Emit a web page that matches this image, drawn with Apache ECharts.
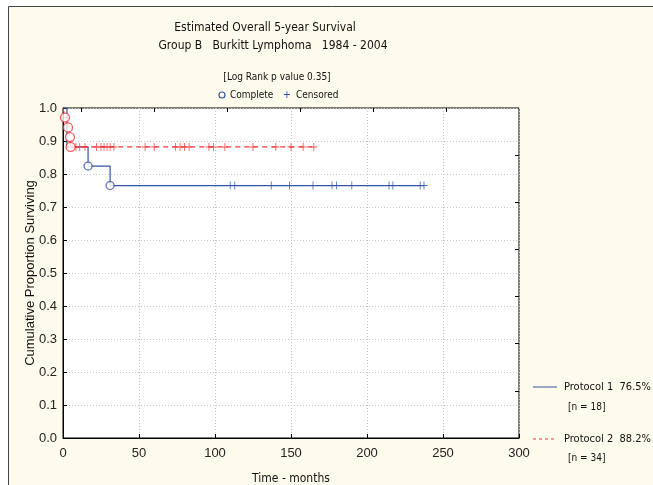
<!DOCTYPE html>
<html>
<head>
<meta charset="utf-8">
<script src="https://cdn.jsdelivr.net/npm/echarts@6/dist/echarts.min.js"></script>
<style>
html,body{margin:0;padding:0;background:#fff;}
#c{width:653px;height:485px;}
</style>
</head>
<body>
<div id="c"></div>
<script>
// ---- data ----
var titleLine1 = 'Estimated Overall 5-year Survival';
var titleLine2 = 'Group B   Burkitt Lymphoma   1984 - 2004';
var subTitle = '[Log Rank p value 0.35]';
var xTicks = [0, 50, 100, 150, 200, 250, 300];
var yTicks = [0, 0.1, 0.2, 0.3, 0.4, 0.5, 0.6, 0.7, 0.8, 0.9, 1.0];

// Protocol 1 (blue): step curve points [time, survival]
var p1Curve = [[0, 1.0], [2.6, 0.882], [16.5, 0.824], [31, 0.765], [237.5, 0.765]];
var p1Events = [[16.5, 0.824], [31, 0.765]];
var p1Censored = [110, 113, 137, 149, 164.5, 177, 180, 190, 214.5, 217, 235, 237.5];
var p1Value = 0.765;

// Protocol 2 (red)
var p2Curve = [[0, 1.0], [1.3, 0.971], [3.3, 0.941], [4.6, 0.912], [5, 0.882], [166, 0.882]];
var p2Events = [[1.3, 0.971], [3.3, 0.941], [4.6, 0.912], [5, 0.882]];
var p2Censored = [6.5, 8.5, 11, 14.5, 22, 25, 27, 29, 31, 33.5, 54, 60, 74, 77, 80, 83, 96, 99, 106.5, 125, 140, 150, 158, 165];
var p2Value = 0.882;

var legend1 = 'Protocol 1  76.5%', legend1n = '[n = 18]';
var legend2 = 'Protocol 2  88.2%', legend2n = '[n = 34]';

var blue = '#3453a8', red = '#f0393b';
var narrow = '"Liberation Sans Narrow","Arial Narrow","DejaVu Sans Condensed",sans-serif';
var arial = 'Arial, "Liberation Sans", sans-serif';
var plusPath = 'path://M0,4.4H10V5.6H0Z M4.4,0H5.6V10H4.4Z';

var chart = echarts.init(document.getElementById('c'), null, {renderer: 'canvas'});
var option = {
  backgroundColor: '#fff',
  animation: false,
  grid: {left: 63, right: 134, top: 108, bottom: 47, outerBoundsMode: 'none', containLabel: false,
    show: true, backgroundColor: '#fff', borderColor: '#000', borderWidth: 1},
  graphic: [
    {type: 'rect', z: -10, shape: {x: 8.5, y: 6.5, width: 700, height: 600}, style: {fill: '#fefaec', stroke: '#444', lineWidth: 1}},
    {type: 'text', style: {x: 265, y: 28, text: titleLine1, font: '12px ' + narrow, fill: '#111', align: 'center', verticalAlign: 'middle'}},
    {type: 'text', style: {x: 273, y: 46, text: titleLine2, font: '12px ' + narrow, fill: '#111', align: 'center', verticalAlign: 'middle'}},
    {type: 'text', style: {x: 277, y: 77, text: subTitle, font: '10px ' + narrow, fill: '#111', align: 'center', verticalAlign: 'middle'}},
    {type: 'circle', shape: {cx: 222, cy: 95, r: 3}, style: {fill: 'none', stroke: blue, lineWidth: 1.2}},
    {type: 'text', style: {x: 230, y: 95, text: 'Complete', font: '10px ' + narrow, fill: '#111', align: 'left', verticalAlign: 'middle'}},
    {type: 'text', style: {x: 287, y: 95, text: '+', font: '11px ' + narrow, fill: blue, align: 'center', verticalAlign: 'middle'}},
    {type: 'text', style: {x: 296, y: 95, text: 'Censored', font: '10px ' + narrow, fill: '#111', align: 'left', verticalAlign: 'middle'}},
    {type: 'line', shape: {x1: 533, y1: 387, x2: 557, y2: 387}, style: {stroke: blue, lineWidth: 1}},
    {type: 'text', style: {x: 564, y: 387, text: legend1, font: '11px ' + narrow, fill: '#111', align: 'left', verticalAlign: 'middle'}},
    {type: 'text', style: {x: 568, y: 407, text: legend1n, font: '10px ' + narrow, fill: '#111', align: 'left', verticalAlign: 'middle'}},
    {type: 'line', shape: {x1: 533, y1: 439, x2: 557, y2: 439}, style: {stroke: red, lineWidth: 1, lineDash: [3, 3]}},
    {type: 'text', style: {x: 564, y: 439, text: legend2, font: '11px ' + narrow, fill: '#111', align: 'left', verticalAlign: 'middle'}},
    {type: 'text', style: {x: 568, y: 458, text: legend2n, font: '10px ' + narrow, fill: '#111', align: 'left', verticalAlign: 'middle'}}
  ],
  xAxis: [{
    type: 'value', min: xTicks[0], max: xTicks[xTicks.length - 1], interval: 50,
    name: 'Time - months', nameLocation: 'middle', nameGap: 35, nameMoveOverlap: false,
    nameTextStyle: {fontFamily: narrow, fontSize: 12, color: '#111'},
    axisLine: {show: true, onZero: false, lineStyle: {color: '#000', width: 1}},
    axisTick: {show: true, inside: true, length: 4, lineStyle: {color: '#000'}},
    axisLabel: {fontFamily: arial, fontSize: 13, color: '#222', margin: 9},
    splitLine: {show: true, lineStyle: {color: '#c8c8c8', type: [1, 2]}}
  }, {
    type: 'value', position: 'top', min: 0, max: 300,
    axisLine: {show: false, onZero: false},
    axisTick: {show: true, inside: true, length: 4, lineStyle: {color: '#000'}, customValues: [11.8, 59.8, 107.9, 155.9, 203.9, 251.9]},
    axisLabel: {show: false},
    splitLine: {show: false}
  }],
  yAxis: [{
    type: 'value', min: 0, max: 1, interval: 0.1,
    name: 'Cumulative Proportion Surviving', nameLocation: 'middle', nameGap: 26, nameMoveOverlap: false,
    nameTextStyle: {fontFamily: arial, fontSize: 13, color: '#111'},
    axisLine: {show: true, onZero: false, lineStyle: {color: '#000', width: 1}},
    axisTick: {show: true, inside: true, length: 4, lineStyle: {color: '#000'}},
    axisLabel: {fontFamily: arial, fontSize: 13, color: '#222', margin: 6,
      formatter: function (v) { return v.toFixed(1); }},
    splitLine: {show: true, lineStyle: {color: '#c8c8c8', type: [1, 2]}}
  }, {
    type: 'value', position: 'right', min: 0, max: 1,
    axisLine: {show: false, onZero: false},
    axisTick: {show: true, inside: true, length: 4, lineStyle: {color: '#000'}, customValues: [1/7, 2/7, 3/7, 4/7, 5/7, 6/7]},
    axisLabel: {show: false},
    splitLine: {show: false}
  }],
  series: [
    {type: 'line', step: 'end', data: p1Curve, symbol: 'none', lineStyle: {color: blue, width: 1.2}, z: 3},
    {type: 'line', step: 'end', data: p2Curve, symbol: 'none', lineStyle: {color: red, width: 1.2, type: [5, 4]}, z: 4},
    {type: 'scatter', data: p1Censored.map(function (t) { return [t, p1Value]; }), symbol: plusPath, symbolSize: [7, 8], itemStyle: {color: blue, opacity: 0.85}, z: 5},
    {type: 'scatter', data: p2Censored.map(function (t) { return [t, p2Value]; }), symbol: plusPath, symbolSize: [7, 8], itemStyle: {color: red, opacity: 0.85}, z: 6},
    {type: 'scatter', data: p1Events, symbol: 'circle', symbolSize: 8, itemStyle: {color: '#fff', borderColor: blue, borderWidth: 1.3}, z: 7},
    {type: 'scatter', data: p2Events, symbol: 'circle', symbolSize: 9, itemStyle: {color: '#fff', borderColor: red, borderWidth: 1.3}, z: 8}
  ]
};
chart.setOption(option);
</script>
</body>
</html>
